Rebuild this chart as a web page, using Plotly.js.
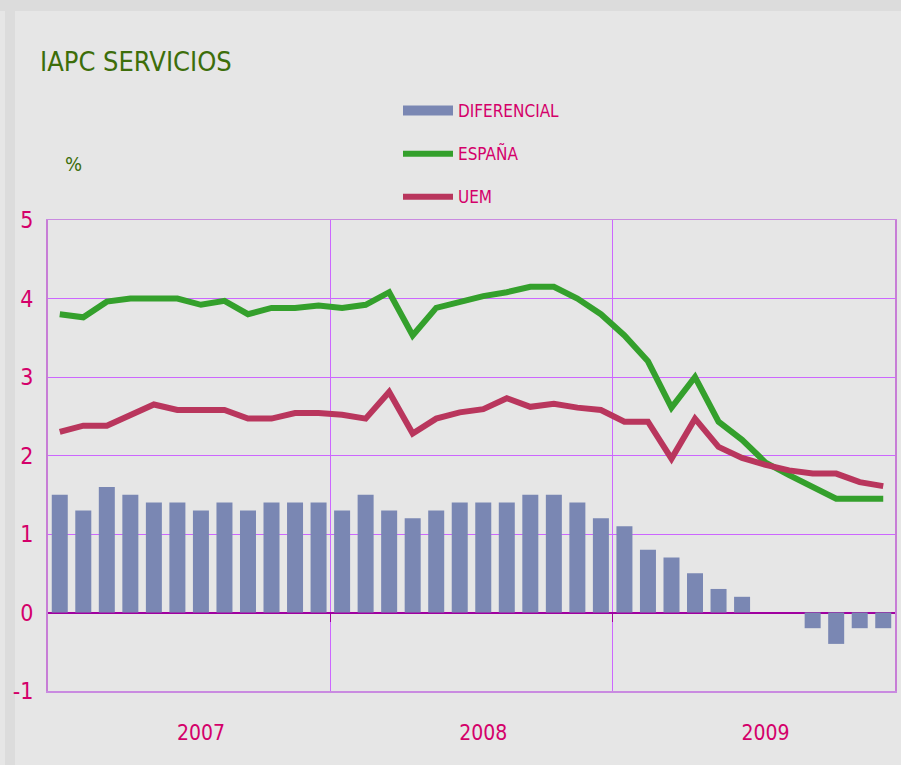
<!DOCTYPE html>
<html>
<head>
<meta charset="utf-8">
<script src="https://cdn.plot.ly/plotly-3.0.1.min.js"></script>
<style>html,body{margin:0;padding:0;background:#e6e6e6;}#chart{width:901px;height:765px;}</style>
</head>
<body>
<div id="chart"></div>
<script>
const months = ['ene-07','feb-07','mar-07','abr-07','may-07','jun-07','jul-07','ago-07','sep-07','oct-07','nov-07','dic-07',
                'ene-08','feb-08','mar-08','abr-08','may-08','jun-08','jul-08','ago-08','sep-08','oct-08','nov-08','dic-08',
                'ene-09','feb-09','mar-09','abr-09','may-09','jun-09','jul-09','ago-09','sep-09','oct-09','nov-09','dic-09'];
const years = ['2007','2008','2009'];
const yTicks = [-1, 0, 1, 2, 3, 4, 5];
const diferencial = [1.5,1.3,1.6,1.5,1.4,1.4,1.3,1.4,1.3,1.4,1.4,1.4,
                     1.3,1.5,1.3,1.2,1.3,1.4,1.4,1.4,1.5,1.5,1.4,1.2,
                     1.1,0.8,0.7,0.5,0.3,0.2,0,0,-0.2,-0.4,-0.2,-0.2];
const espana = [3.8,3.76,3.96,4.0,4.0,4.0,3.92,3.97,3.8,3.88,3.88,3.91,
                3.88,3.92,4.08,3.53,3.88,3.96,4.03,4.08,4.15,4.15,4.0,3.8,
                3.53,3.2,2.61,3.0,2.43,2.2,1.91,1.75,1.6,1.45,1.45,1.45];
const uem = [2.3,2.38,2.38,2.51,2.65,2.58,2.58,2.58,2.47,2.47,2.54,2.54,
             2.52,2.47,2.81,2.28,2.47,2.55,2.59,2.73,2.62,2.66,2.61,2.58,
             2.43,2.43,1.96,2.47,2.11,1.97,1.88,1.81,1.77,1.77,1.66,1.61];

const x = months.map((m, i) => i);
const n = months.length;
const perYear = n / years.length;
const yearCenters = years.map((y, i) => i * perYear + perYear / 2);
const yearBounds = years.slice(1).map((y, i) => (i + 1) * perYear - 0.5);

const NARROW = '"DejaVu Sans Condensed", "Liberation Sans Narrow", Arial, sans-serif';
const PINK = '#d4006a';
const GRID = '#cc66ff';
const BARC = '#7a87b3';

const traces = [
  {type: 'bar', name: 'DIFERENCIAL', x: x, y: diferencial, marker: {color: BARC}, width: 0.68, showlegend: false, hoverinfo: 'y'},
  {type: 'scatter', mode: 'lines', name: 'DIFERENCIAL', x: [null], y: [null], line: {color: BARC, width: 16}, legendgroup: 'a', hoverinfo: 'skip'},
  {type: 'scatter', mode: 'lines', name: 'ESPAÑA', x: x, y: espana, line: {color: '#34a02c', width: 6}, legendgroup: 'b'},
  {type: 'scatter', mode: 'lines', name: 'UEM', x: x, y: uem, line: {color: '#b9365d', width: 6}, legendgroup: 'c'},
  {type: 'scatter', mode: 'lines', x: [null], y: [null], xaxis: 'x2', showlegend: false, hoverinfo: 'skip'},
  {type: 'scatter', mode: 'lines', x: [null], y: [null], xaxis: 'x3', showlegend: false, hoverinfo: 'skip'}
];

const layout = {
  width: 901, height: 765,
  paper_bgcolor: '#e6e6e6', plot_bgcolor: '#e6e6e6',
  margin: {l: 48, r: 6, t: 220, b: 74, autoexpand: false},
  font: {family: NARROW, color: PINK},
  title: {text: 'IAPC SERVICIOS', font: {family: NARROW, size: 27, color: '#3d6e0a'},
          xref: 'container', yref: 'container', x: 40/901, xanchor: 'left', y: 1 - 62/765, yanchor: 'middle'},
  showlegend: true,
  legend: {xref: 'container', yref: 'container', x: 398/901, xanchor: 'left', y: 1 - 93/765, yanchor: 'top',
           bgcolor: 'rgba(0,0,0,0)', font: {family: NARROW, size: 17, color: PINK},
           tracegroupgap: 18, itemwidth: 50, traceorder: 'grouped'},
  xaxis: {range: [-0.5, n - 0.5], tickvals: yearBounds, showticklabels: false, ticks: '',
          showgrid: true, gridcolor: GRID, gridwidth: 1, zeroline: false,
          showline: true, linecolor: '#c98ae0', linewidth: 1.5, mirror: true, fixedrange: true},
  xaxis2: {overlaying: 'x', anchor: 'free', position: 1/6, range: [-0.5, n - 0.5], tickvals: yearBounds,
           showticklabels: false, ticks: 'outside', ticklen: 8, tickcolor: '#a000a0', tickwidth: 1.5,
           showgrid: false, zeroline: false, showline: false, fixedrange: true},
  xaxis3: {overlaying: 'x', anchor: 'y', side: 'bottom', range: [-0.5, n - 0.5], tickvals: yearCenters, ticktext: years,
           ticks: 'outside', ticklen: 23, tickcolor: 'rgba(0,0,0,0)', showgrid: false, zeroline: false, showline: false,
           tickfont: {family: NARROW, size: 21, color: PINK}, fixedrange: true},
  yaxis: {range: [-1, 5], tickvals: yTicks, ticktext: yTicks.map(String), showgrid: true, gridcolor: GRID, gridwidth: 1,
          zeroline: true, zerolinecolor: '#a000a0', zerolinewidth: 2,
          showline: true, linecolor: '#c77dd6', linewidth: 2, mirror: true,
          ticks: '', ticklabelstandoff: 8, tickfont: {family: NARROW, size: 23, color: PINK}, fixedrange: true},
  annotations: [
    {text: '%', xref: 'paper', yref: 'paper', x: (63 - 48) / 847, xanchor: 'left', y: 1 + (220 - 164) / 471, yanchor: 'middle',
     showarrow: false, font: {family: NARROW, size: 20, color: '#3d6e0a'}}
  ],
  shapes: [
    {type: 'rect', xref: 'paper', yref: 'paper', x0: -48/847, x1: (901 - 48)/847, y0: 1 + 209/471, y1: 1 + 220/471,
     fillcolor: '#dcdcdc', line: {width: 0}, layer: 'below'},
    {type: 'rect', xref: 'paper', yref: 'paper', x0: -43/847, x1: -33/847, y0: -74/471, y1: 1 + 220/471,
     fillcolor: '#dcdcdc', line: {width: 0}, layer: 'below'}
  ]
};

Plotly.newPlot('chart', traces, layout, {displayModeBar: false, staticPlot: true});
</script>
</body>
</html>
